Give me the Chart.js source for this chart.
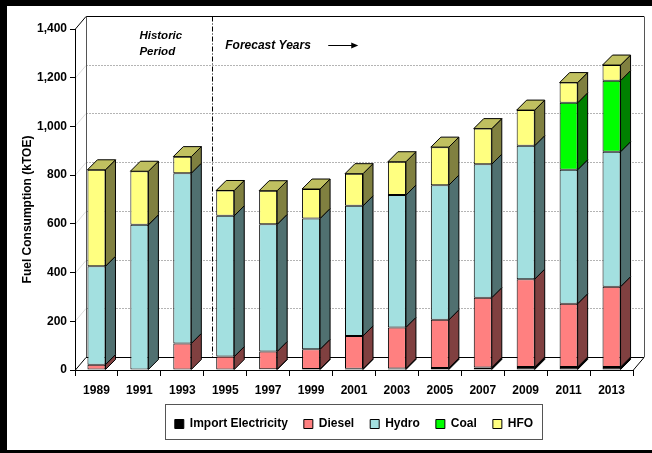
<!DOCTYPE html>
<html>
<head>
<meta charset="utf-8">
<script src="https://cdn.jsdelivr.net/npm/chart.js@4.4.0/dist/chart.umd.min.js"></script>
<style>
  html, body { margin: 0; padding: 0; background: #ffffff; }
  #wrap { width: 652px; height: 453px; position: relative; }
</style>
</head>
<body>
<div id="wrap"><canvas id="chart" width="652" height="453"></canvas></div>
<script>
// Fuel consumption by source, kTOE
const years = ['1989', '1991', '1993', '1995', '1997', '1999', '2001', '2003', '2005', '2007', '2009', '2011', '2013'];
const importElectricity = [0, 0, 0, 0, 3, 4, 5, 6, 8, 10, 12, 12, 12];
const diesel = [22, 0, 109, 55, 73, 81, 135, 169, 198, 287, 361, 260, 330];
const hydro = [404, 596, 699, 578, 522, 537, 534, 543, 553, 548, 548, 550, 554];
const coal = [0, 0, 0, 0, 0, 0, 0, 0, 0, 0, 0, 275, 292];
const hfo = [396, 220, 68, 104, 138, 121, 132, 137, 156, 146, 146, 83, 64];
const yMin = 0, yMax = 1400, yStep = 200;
const historicLabel = ['Historic', 'Period'];
const forecastLabel = 'Forecast Years';
const yTitle = 'Fuel Consumption (kTOE)';

const FONT = '"Liberation Sans", Arial, Helvetica, sans-serif';
const BAR_DEPTH = { dx: 10, dy: 10 };
const WALL_DEPTH = { dx: 11, dy: 13 };

function series(label, data, front, side, top) {
  return {
    label, data: data.map(v => (v > 0 ? v : null)),
    backgroundColor: front, borderColor: '#000000', borderWidth: 1, borderSkipped: false,
    sideColor: side, topColor: top
  };
}

// Extruded box faces, the back wall, floor and annotations
const box3d = {
  id: 'box3d',
  beforeDraw(chart) {
    const ctx = chart.ctx;
    const { left, right, top, bottom } = chart.chartArea;
    const ys = chart.scales.y, xs = chart.scales.x;
    const { dx, dy } = WALL_DEPTH;
    ctx.save();
    // frame
    ctx.fillStyle = '#000';
    ctx.fillRect(0, 0, 7, chart.height);
    ctx.fillRect(0, 0, chart.width, 6);
    ctx.fillRect(0, chart.height - 3, chart.width, 3);

    // back wall
    ctx.fillStyle = '#fff';
    ctx.fillRect(left + dx, top - dy, right - left, bottom - top);
    // grid on back wall + side wall diagonals
    for (let v = yMin + yStep; v < yMax; v += yStep) {
      const py = Math.round(ys.getPixelForValue(v)) + 0.5;
      ctx.strokeStyle = '#dcdcdc';
      ctx.lineWidth = 1;
      ctx.setLineDash([]);
      ctx.beginPath(); ctx.moveTo(left, py); ctx.lineTo(left + dx, py - dy); ctx.stroke();
      ctx.strokeStyle = '#b4b4b4';
      ctx.setLineDash([2, 1]);
      ctx.beginPath(); ctx.moveTo(left + dx, py - dy); ctx.lineTo(right + dx, py - dy); ctx.stroke();
    }
    ctx.setLineDash([]);
    ctx.strokeStyle = '#000';
    ctx.lineWidth = 1;
    const tY = Math.round(ys.getPixelForValue(yMax)) + 0.5;
    ctx.beginPath();
    ctx.moveTo(left, tY);
    ctx.lineTo(left + dx, tY - dy);
    ctx.lineTo(right + dx, tY - dy);
    ctx.stroke();
    ctx.strokeStyle = '#555';
    ctx.beginPath();
    ctx.moveTo(Math.round(left + dx) + 0.5, tY - dy);
    ctx.lineTo(Math.round(left + dx) + 0.5, bottom - dy);
    ctx.moveTo(Math.round(right + dx) + 0.5, tY - dy);
    ctx.lineTo(Math.round(right + dx) + 0.5, bottom - dy);
    ctx.stroke();

    // floor
    const bY = Math.round(ys.getPixelForValue(yMin)) + 0.5;
    ctx.fillStyle = '#fff';
    ctx.strokeStyle = '#000';
    ctx.beginPath();
    ctx.moveTo(left, bY);
    ctx.lineTo(left + dx, bY - dy);
    ctx.lineTo(right + dx, bY - dy);
    ctx.lineTo(right, bY);
    ctx.closePath();
    ctx.fill();
    ctx.stroke();

    // historic / forecast divider
    const xd = Math.round((xs.getPixelForValue(2) + xs.getPixelForValue(3)) / 2 + 8) + 0.5;
    ctx.setLineDash([5, 2, 1, 2]);
    ctx.beginPath();
    ctx.moveTo(xd, tY - dy);
    ctx.lineTo(xd, bY - dy);
    ctx.stroke();
    ctx.setLineDash([]);

    // period labels
    ctx.fillStyle = '#000';
    ctx.textBaseline = 'middle';
    ctx.textAlign = 'left';
    ctx.font = 'italic bold 11.5px ' + FONT;
    const hx = xs.getPixelForValue(1);
    ctx.fillText(historicLabel[0], hx, top + 7);
    ctx.fillText(historicLabel[1], hx, top + 23);
    ctx.font = 'italic bold 12px ' + FONT;
    const fx = xs.getPixelForValue(3);
    ctx.fillText(forecastLabel, fx, top + 17);
    // arrow
    const ax0 = fx + 103, ax1 = fx + 133, ay = top + 16.5;
    ctx.beginPath();
    ctx.moveTo(ax0, ay); ctx.lineTo(ax1 - 5, ay);
    ctx.stroke();
    ctx.beginPath();
    ctx.moveTo(ax1, ay); ctx.lineTo(ax1 - 7, ay - 3); ctx.lineTo(ax1 - 7, ay + 3);
    ctx.closePath(); ctx.fill();

    // y axis title
    ctx.save();
    ctx.translate(28, (top + bottom) / 2 + 10);
    ctx.rotate(-Math.PI / 2);
    ctx.textAlign = 'center';
    ctx.font = 'bold 12px ' + FONT;
    ctx.fillText(yTitle, 0, 0);
    ctx.restore();
    ctx.restore();
  },
  afterDatasetsDraw(chart) {
    const ctx = chart.ctx;
    const { dx, dy } = BAR_DEPTH;
    ctx.save();
    ctx.lineWidth = 1;
    ctx.strokeStyle = '#000';
    ctx.lineJoin = 'miter';
    const n = chart.data.labels.length;
    for (let i = 0; i < n; i++) {
      let topEl = null, topDs = null;
      chart.data.datasets.forEach((ds, di) => {
        const meta = chart.getDatasetMeta(di);
        const el = meta.data[i];
        if (!el || ds.data[i] == null) return;
        const p = el.getProps(['x', 'y', 'base', 'width'], true);
        const xr = p.x + p.width / 2;
        const y0 = Math.min(p.y, p.base), y1 = Math.max(p.y, p.base);
        ctx.fillStyle = ds.sideColor;
        ctx.beginPath();
        ctx.moveTo(xr, y0);
        ctx.lineTo(xr + dx, y0 - dy);
        ctx.lineTo(xr + dx, y1 - dy);
        ctx.lineTo(xr, y1);
        ctx.closePath();
        ctx.fill();
        ctx.stroke();
        topEl = p; topDs = ds;
      });
      if (topEl) {
        const xl = topEl.x - topEl.width / 2, xr = topEl.x + topEl.width / 2;
        const yt = Math.min(topEl.y, topEl.base);
        ctx.fillStyle = topDs.topColor;
        ctx.beginPath();
        ctx.moveTo(xl, yt);
        ctx.lineTo(xl + dx, yt - dy);
        ctx.lineTo(xr + dx, yt - dy);
        ctx.lineTo(xr, yt);
        ctx.closePath();
        ctx.fill();
        ctx.stroke();
      }
    }
    ctx.restore();
  },
  afterDraw(chart) {
    // box around the legend entries
    const lg = chart.legend;
    if (!lg || !lg.legendHitBoxes || !lg.legendHitBoxes.length) return;
    const hb = lg.legendHitBoxes;
    const l = Math.round(hb[0].left - 10) + 0.5;
    const last = hb[hb.length - 1];
    const r = Math.round(last.left + last.width + 9) + 0.5;
    const ctx = chart.ctx;
    ctx.save();
    ctx.strokeStyle = '#555';
    ctx.lineWidth = 1;
    ctx.strokeRect(l, Math.round(lg.top + 2) + 0.5, r - l, Math.round(lg.bottom - lg.top - 3));
    ctx.restore();
  }
};

new Chart(document.getElementById('chart'), {
  type: 'bar',
  data: {
    labels: years,
    datasets: [
      series('Import Electricity', importElectricity, '#000000', '#000000', '#202020'),
      series('Diesel', diesel, '#ff8080', '#804040', '#c06060'),
      series('Hydro', hydro, '#a3e0e0', '#507070', '#78a8a8'),
      series('Coal', coal, '#00ff00', '#008000', '#00c000'),
      series('HFO', hfo, '#ffff80', '#808040', '#c0c060')
    ]
  },
  options: {
    responsive: false,
    animation: false,
    devicePixelRatio: 1,
    layout: { padding: { left: 0, right: 19, top: 29, bottom: 13 } },
    datasets: { bar: { barPercentage: 0.42, categoryPercentage: 1 } },
    scales: {
      x: {
        stacked: true,
        afterFit(scale) { scale.height = 32; },
        grid: { display: true, drawOnChartArea: false, drawTicks: true, tickLength: 6, color: '#000', offset: true },
        border: { display: true, color: '#000' },
        ticks: { color: '#000', padding: 7, font: { family: FONT, size: 12, weight: 'bold' }, maxRotation: 0 }
      },
      y: {
        stacked: true,
        min: yMin, max: yMax,
        afterFit(scale) { scale.width = 75; },
        grid: { display: true, drawOnChartArea: false, drawTicks: true, tickLength: 5, color: '#000' },
        border: { display: true, color: '#000' },
        ticks: { stepSize: yStep, color: '#000', padding: 3, font: { family: FONT, size: 12, weight: 'bold' } }
      }
    },
    plugins: {
      legend: {
        display: true,
        position: 'bottom',
        fullSize: false,
        labels: { boxWidth: 9, boxHeight: 9, padding: 16, color: '#000', font: { family: FONT, size: 12, weight: 'bold' } }
      },
      tooltip: { enabled: false },
      title: { display: false }
    }
  },
  plugins: [box3d]
});
</script>
</body>
</html>
